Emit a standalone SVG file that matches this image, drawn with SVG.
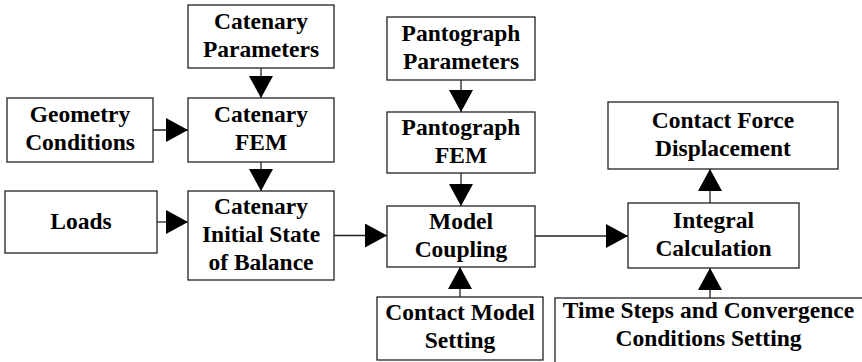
<svg xmlns="http://www.w3.org/2000/svg" width="862" height="362" viewBox="0 0 862 362">
<defs>
<style>
.box{fill:#fff;stroke:#222;stroke-width:1.3}
.c{stroke:#222;stroke-width:1.3;fill:none;marker-end:url(#ah)}
</style>
<marker id="ah" markerUnits="userSpaceOnUse" markerWidth="22" markerHeight="24" refX="22" refY="12" orient="auto" viewBox="0 0 22 24">
<path d="M0,0 L22,12 L0,24 Z" fill="#000"/>
</marker>
</defs>
<rect width="862" height="362" fill="#fff"/>
<g id="connectors">
<line class="c" x1="261" y1="68" x2="261" y2="98"/>
<line class="c" x1="153" y1="130" x2="188" y2="130"/>
<line class="c" x1="261" y1="162" x2="261" y2="191"/>
<line class="c" x1="157" y1="222" x2="188" y2="222"/>
<line class="c" x1="334" y1="235.5" x2="387" y2="235.5"/>
<line class="c" x1="461" y1="80" x2="461" y2="112"/>
<line class="c" x1="461" y1="173" x2="461" y2="206"/>
<line class="c" x1="460" y1="297" x2="460" y2="267"/>
<line class="c" x1="535" y1="236" x2="628" y2="236"/>
<line class="c" x1="710" y1="203" x2="710" y2="169"/>
<line class="c" x1="710" y1="298" x2="710" y2="268"/>
</g>
<g font-family="'Liberation Serif', 'DejaVu Serif', serif" font-weight="bold" font-size="23.5" text-anchor="middle" fill="#000">
<g id="catenary-parameters">
<rect class="box" x="188" y="5" width="146" height="63"/>
<text x="261" y="29">Catenary</text>
<text x="261" y="57">Parameters</text>
</g>
<g id="geometry-conditions">
<rect class="box" x="7" y="98" width="146" height="64"/>
<text x="80" y="122">Geometry</text>
<text x="80" y="150">Conditions</text>
</g>
<g id="catenary-fem">
<rect class="box" x="188" y="98" width="146" height="64"/>
<text x="261" y="122">Catenary</text>
<text x="261" y="150">FEM</text>
</g>
<g id="loads">
<rect class="box" x="5" y="191" width="152" height="62"/>
<text x="81" y="229">Loads</text>
</g>
<g id="catenary-initial">
<rect class="box" x="188" y="191" width="146" height="89"/>
<text x="261" y="214">Catenary</text>
<text x="261" y="242">Initial State</text>
<text x="261" y="270">of Balance</text>
</g>
<g id="pantograph-parameters">
<rect class="box" x="387" y="17" width="148" height="63"/>
<text x="461" y="41">Pantograph</text>
<text x="461" y="69">Parameters</text>
</g>
<g id="pantograph-fem">
<rect class="box" x="387" y="112" width="148" height="61"/>
<text x="461" y="135">Pantograph</text>
<text x="461" y="163">FEM</text>
</g>
<g id="model-coupling">
<rect class="box" x="387" y="206" width="148" height="61"/>
<text x="461" y="229">Model</text>
<text x="461" y="257">Coupling</text>
</g>
<g id="contact-model-setting">
<rect class="box" x="377" y="297" width="166" height="63"/>
<text x="460" y="320">Contact Model</text>
<text x="460" y="348">Setting</text>
</g>
<g id="contact-force-displacement">
<rect class="box" x="608" y="102" width="230" height="67"/>
<text x="723" y="128">Contact Force</text>
<text x="723" y="156">Displacement</text>
</g>
<g id="integral-calculation">
<rect class="box" x="628" y="203" width="171" height="65"/>
<text x="713.5" y="228">Integral</text>
<text x="713.5" y="256">Calculation</text>
</g>
<g id="time-steps">
<rect class="box" x="555" y="298" width="330" height="80"/>
<text x="708.5" y="318">Time Steps and Convergence</text>
<text x="708.5" y="346">Conditions Setting</text>
</g>
</g>
</svg>
